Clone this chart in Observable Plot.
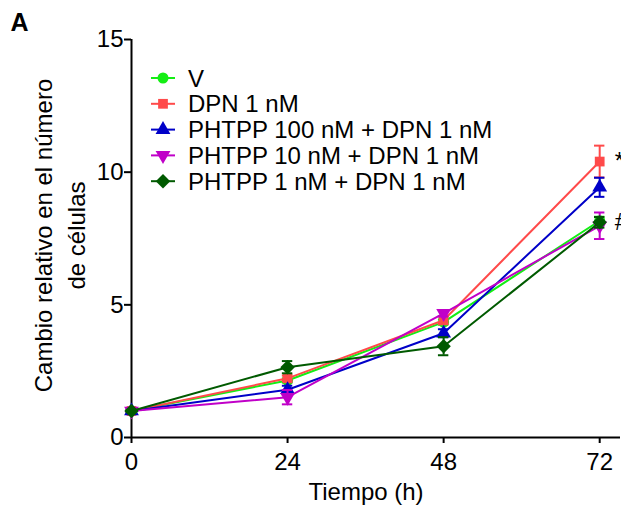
<!DOCTYPE html>
<html>
<head>
<meta charset="utf-8">
<script src="https://cdn.jsdelivr.net/npm/d3@7"></script>
<script src="https://cdn.jsdelivr.net/npm/@observablehq/plot@0.6"></script>
<style>
  body { margin: 0; background: #fff; }
  #chart { position: relative; width: 621px; height: 506px; }
</style>
</head>
<body>
<div id="chart"></div>
<script>
const times = [0, 24, 48, 72];
const seriesNames = ["V", "DPN 1 nM", "PHTPP 100 nM + DPN 1 nM", "PHTPP 10 nM + DPN 1 nM", "PHTPP 1 nM + DPN 1 nM"];
const seriesColors = ["#14ee14", "#ff4a4a", "#0000c8", "#c000c8", "#005a00"];
const seriesSymbols = ["circle", "square", "triangle", "triangle-down", "diamond2"];
const meansV     = [1, 2.15, 4.35, 8.17];
const errV       = [0.03, 0.08, 0.10, 0.15];
const meansDPN   = [1, 2.23, 4.42, 10.40];
const errDPN     = [0.03, 0.10, 0.15, 0.60];
const meansP100  = [1, 1.80, 3.93, 9.43];
const errP100    = [0.03, 0.15, 0.15, 0.36];
const meansP10   = [1, 1.52, 4.68, 7.98];
const errP10     = [0.03, 0.27, 0.12, 0.50];
const meansP1    = [1, 2.65, 3.44, 8.11];
const errP1      = [0.03, 0.23, 0.34, 0.20];
const yTicks = [0, 5, 10, 15];
const annotations = [{series: 1, text: "*"}, {series: 4, text: "#"}];

const allMeans = [meansV, meansDPN, meansP100, meansP10, meansP1];
const allErr = [errV, errDPN, errP100, errP10, errP1];

const rows = [];
seriesNames.forEach((s, i) => {
  times.forEach((t, j) => rows.push({series: s, idx: i, t, y: allMeans[i][j], e: allErr[i][j]}));
});

const FONT = "'Liberation Sans', Arial, sans-serif";
const FS = 24;
const marks = [];
seriesNames.forEach((s, i) => {
  const d = rows.filter(r => r.idx === i);
  const c = seriesColors[i];
  marks.push(Plot.ruleX(d, {x: "t", y1: r => r.y - r.e, y2: r => r.y + r.e, stroke: c, strokeWidth: 2}));
  marks.push(Plot.ruleY(d, {y: r => r.y - r.e, x1: r => r.t - 0.8, x2: r => r.t + 0.8, stroke: c, strokeWidth: 2}));
  marks.push(Plot.ruleY(d, {y: r => r.y + r.e, x1: r => r.t - 0.8, x2: r => r.t + 0.8, stroke: c, strokeWidth: 2}));
  marks.push(Plot.line(d, {x: "t", y: "y", stroke: c, strokeWidth: 2}));
  const sym = seriesSymbols[i];
  marks.push(Plot.dot(d, {
    x: "t", y: "y", fill: c, stroke: "none",
    r: sym === "diamond2" ? 6.5 : 5.5,
    symbol: sym === "triangle-down" ? "triangle" : sym,
    rotate: sym === "triangle-down" ? 180 : 0
  }));
});
const annRows = annotations.map(a => ({t: 72, y: allMeans[a.series][3], text: a.text}));
marks.push(Plot.text(annRows, {x: "t", y: "y", text: "text", dx: 15, textAnchor: "start", fontSize: FS, fill: "#000"}));

const chart = Plot.plot({
  width: 621,
  height: 506,
  marginLeft: 131,
  marginRight: 1,
  marginTop: 39,
  marginBottom: 69,
  style: {fontFamily: FONT, fontSize: FS + "px", color: "#000", background: "#fff"},
  x: {domain: [0, 75.2]},
  y: {domain: [0, 15]},
  marks: [
    Plot.axisX({ticks: times, tickSize: 6, tickPadding: 9, tickFormat: d => String(d), label: null, stroke: "#000", strokeWidth: 2, fontSize: FS}),
    Plot.axisY({ticks: yTicks, tickSize: 7, tickPadding: 1, tickFormat: d => String(d), label: null, stroke: "#000", strokeWidth: 2, fontSize: FS}),
    Plot.ruleX([0], {stroke: "#000", strokeWidth: 2}),
    Plot.ruleY([0], {stroke: "#000", strokeWidth: 2}),
    ...marks,
    Plot.text(["Tiempo (h)"], {frameAnchor: "bottom", textAnchor: "middle", lineAnchor: "middle", dx: -10, dy: 55, fontSize: FS, fill: "#000"}),
    Plot.text(["Cambio relativo en el número"], {frameAnchor: "left", textAnchor: "middle", lineAnchor: "middle", rotate: -90, dx: -87, dy: -3, fontSize: FS, fill: "#000"}),
    Plot.text(["de células"], {frameAnchor: "left", textAnchor: "middle", lineAnchor: "middle", rotate: -90, dx: -54, dy: -3, fontSize: FS, fill: "#000"}),
    Plot.text(["A"], {frameAnchor: "top-left", textAnchor: "start", lineAnchor: "top", dx: -121, dy: -26, fontSize: 25, fontWeight: "bold", fill: "#000"})
  ]
});

// Legend drawn into the plot SVG
const svg = d3.select(chart);
const lg = svg.append("g").attr("font-family", FONT).attr("font-size", FS).attr("text-anchor", "start");
seriesNames.forEach((s, i) => {
  const y = 78 + i * 25.8;
  const g = lg.append("g").attr("transform", `translate(0,${y})`);
  g.append("line").attr("x1", 151).attr("x2", 175).attr("y1", 0).attr("y2", 0)
    .attr("stroke", seriesColors[i]).attr("stroke-width", 2);
  const sym = seriesSymbols[i];
  const symType = {circle: d3.symbolCircle, square: d3.symbolSquare, triangle: d3.symbolTriangle, "triangle-down": d3.symbolTriangle, diamond2: d3.symbolDiamond2}[sym];
  const r = sym === "diamond2" ? 6.5 : 5.5;
  g.append("path").attr("d", d3.symbol(symType, Math.PI * r * r)())
    .attr("transform", `translate(163,0)${sym === "triangle-down" ? " rotate(180)" : ""}`)
    .attr("fill", seriesColors[i]);
  g.append("text").attr("x", 188).attr("y", 0).attr("dy", "0.36em").attr("fill", "#000").attr("text-anchor", "start").text(s);
});

document.getElementById("chart").appendChild(chart);
</script>
</body>
</html>
